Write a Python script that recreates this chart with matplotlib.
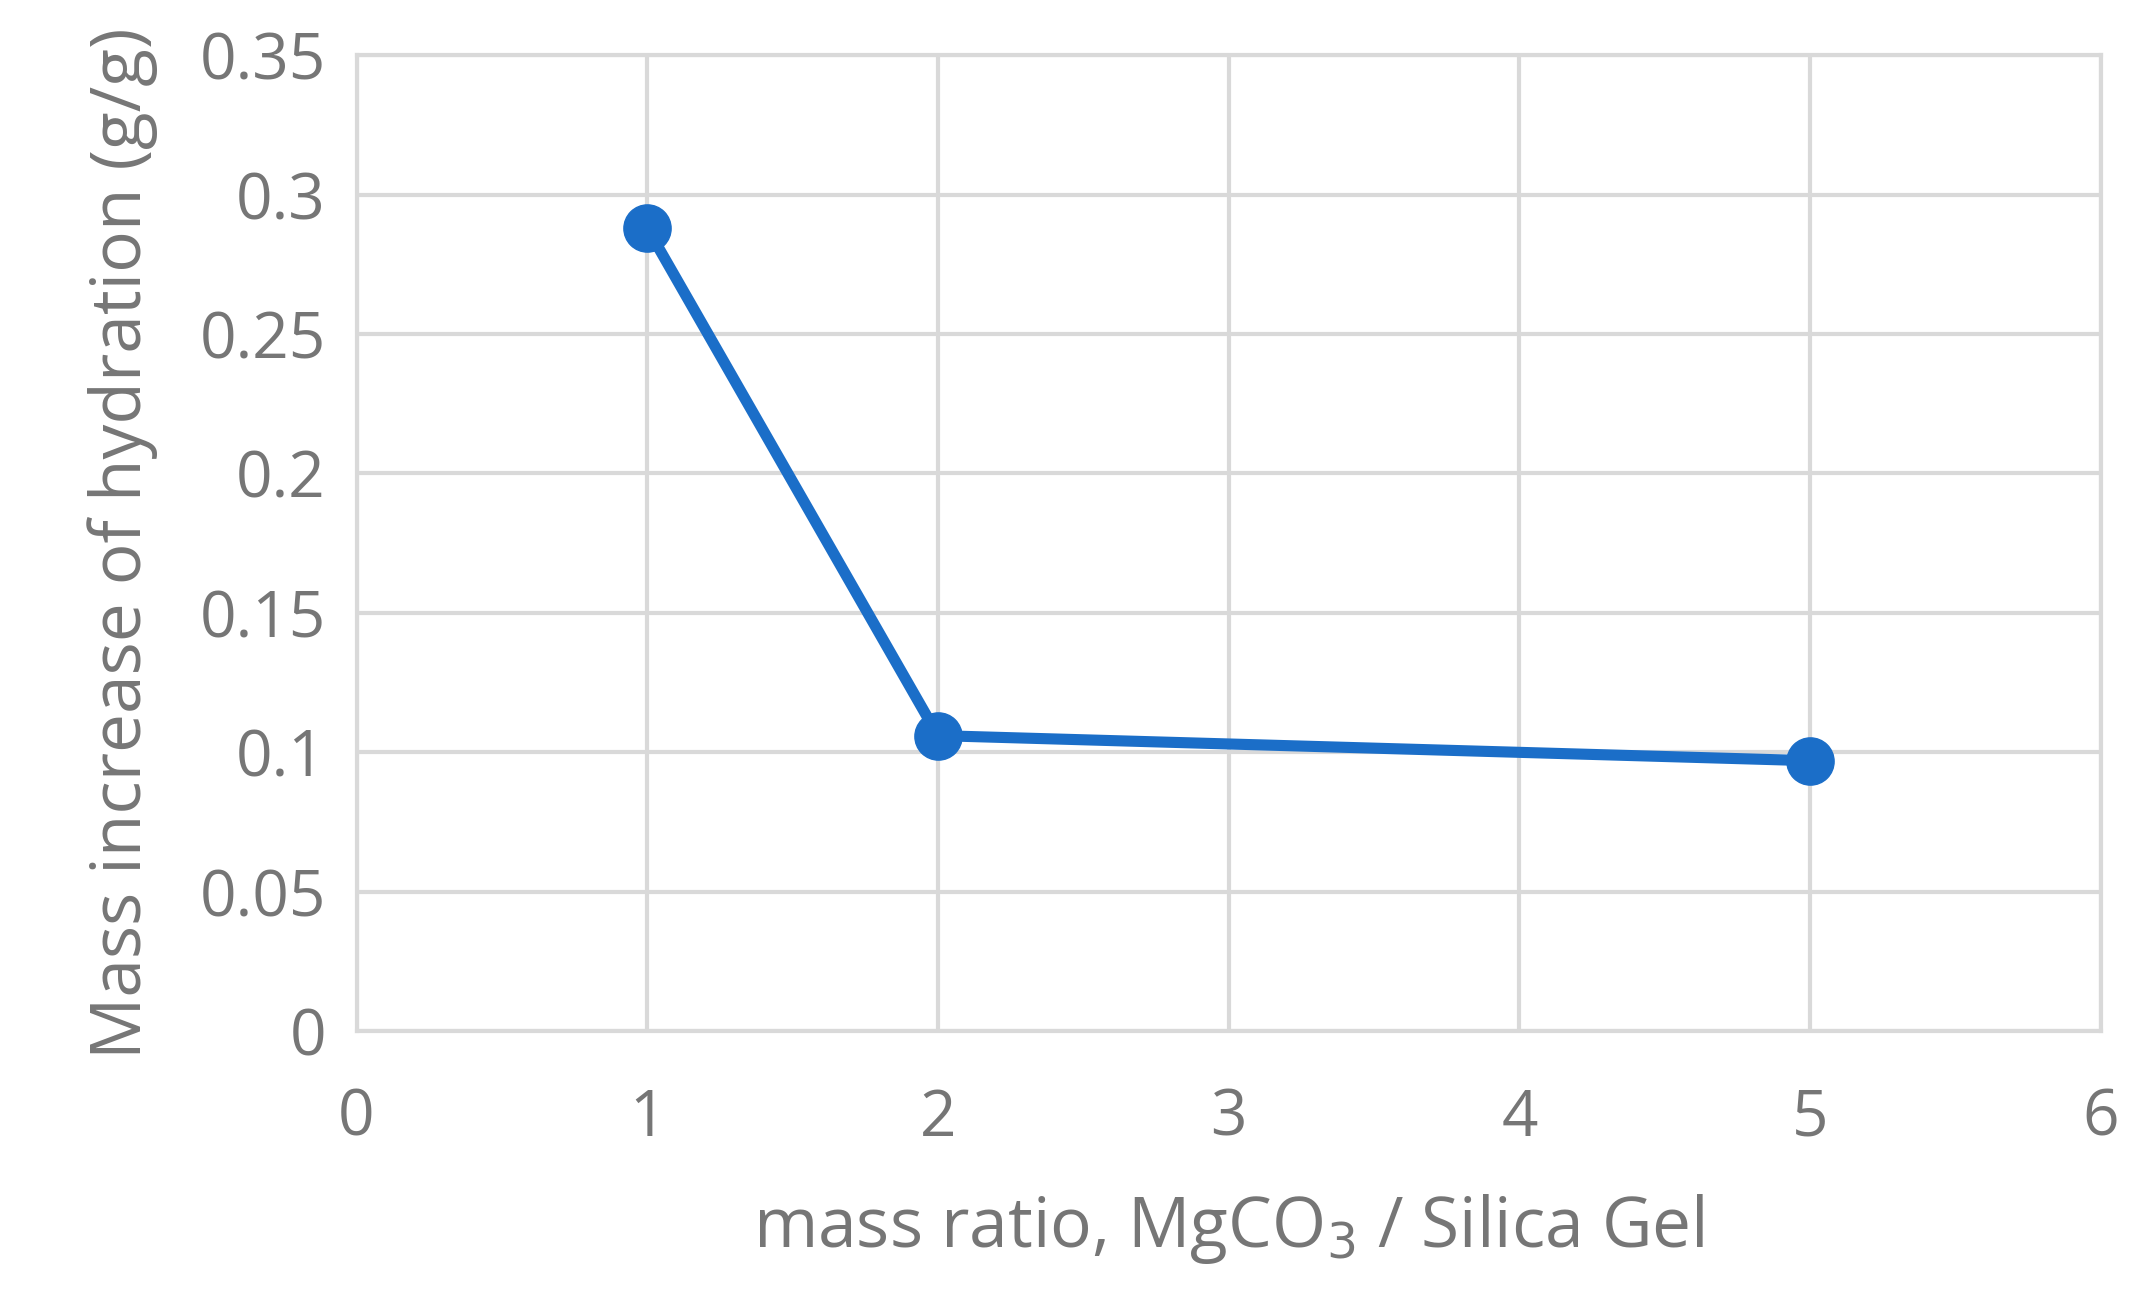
import matplotlib
matplotlib.use("Agg")
import matplotlib.pyplot as plt

x = [1, 2, 5]
y = [0.288, 0.106, 0.097]
xticks = [0, 1, 2, 3, 4, 5, 6]
yticks = [0, 0.05, 0.1, 0.15, 0.2, 0.25, 0.3, 0.35]
ylabels = ["0", "0.05", "0.1", "0.15", "0.2", "0.25", "0.3", "0.35"]

plt.rcParams['font.family'] = ['Open Sans', 'DejaVu Sans']
gray = '#767676'
fig = plt.figure(figsize=(21.35, 13.12), dpi=100)
ax = fig.add_axes([0.167, 0.214, 0.817, 0.744])
ax.plot(x, y, color='#1b6ec8', lw=8, marker='o', ms=34, zorder=3, clip_on=False)
ax.set_xlim(0, 6)
ax.set_ylim(0, 0.35)
ax.set_xticks(xticks)
ax.set_yticks(yticks)
ax.set_yticklabels(ylabels)
ax.grid(True, color='#d9d9d9', lw=3)
for s in ax.spines.values():
    s.set_color('#d9d9d9'); s.set_linewidth(3)
ax.tick_params(length=0, labelsize=46, labelcolor=gray)
ax.tick_params(axis='x', pad=40)
ax.tick_params(axis='y', pad=22)
ax.set_xlabel("mass ratio, MgCO$_3$ / Silica Gel", fontsize=50, color=gray, labelpad=30)
ax.set_ylabel("Mass increase of hydration (g/g)", fontsize=50, color=gray, labelpad=30)
fig.savefig("out.png", dpi=100)
